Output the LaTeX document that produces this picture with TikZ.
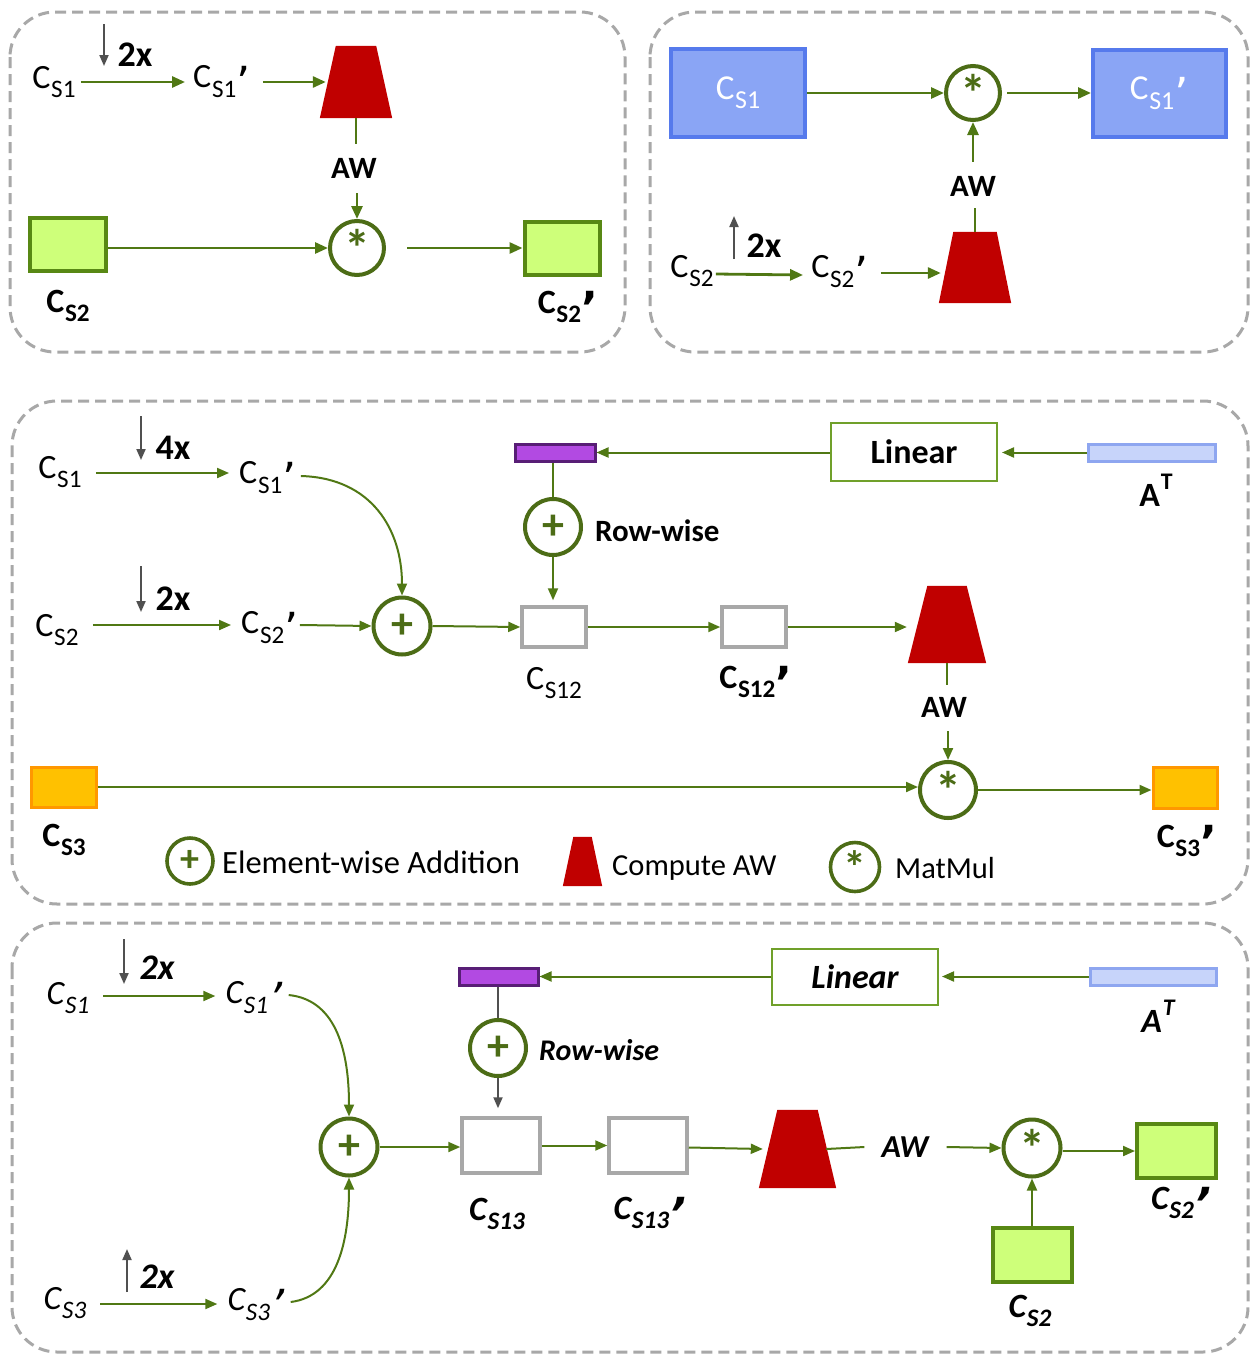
\documentclass[tikz,border=0pt]{standalone}
\usepackage{fontspec}
\setmainfont{Carlito}
\newfontfamily\djv{DejaVu Sans}
\usepackage{graphicx}
\usetikzlibrary{arrows.meta,calc}
\definecolor{grnc}{RGB}{80,120,20}
\definecolor{circc}{RGB}{76,108,22}
\definecolor{lgfill}{RGB}{206,255,122}
\definecolor{lgdraw}{RGB}{88,136,20}
\definecolor{bfill}{RGB}{138,165,245}
\definecolor{bdraw}{RGB}{86,122,236}
\definecolor{pfill}{RGB}{178,74,226}
\definecolor{pdraw}{RGB}{88,30,118}
\definecolor{atfill}{RGB}{199,212,250}
\definecolor{atdraw}{RGB}{142,166,240}
\definecolor{ofill}{RGB}{255,193,0}
\definecolor{odraw}{RGB}{255,152,0}
\definecolor{redc}{RGB}{192,0,0}
\definecolor{grayc}{RGB}{168,168,168}
\definecolor{dgray}{RGB}{80,80,80}
\definecolor{linc}{RGB}{112,160,42}
\newcommand{\fs}[1]{\fontsize{#1}{#1}\selectfont}
\newcommand{\Cs}[1]{C\kern0.02em\raisebox{-0.27em}{\scalebox{0.74}{#1}}}
\newcommand{\pr}{\kern0.01em\raisebox{-0.3em}{\scalebox{1.3}{\djv ’}}}
\newcommand{\AT}{A\kern0.02em\raisebox{0.5em}{\scalebox{0.7}{T}}}
\newcommand{\trapz}[6]{%
  \node[inner sep=0pt, minimum width=#4pt, minimum height=#5pt] (#1) at (#2,#3) {};
  \fill[redc] (#1.south west) -- (#1.south east) -- ([xshift=-#6pt]#1.north east) -- ([xshift=#6pt]#1.north west) -- cycle;}
\begin{document}
\begin{tikzpicture}[x=1pt,y=-1pt,
  panel/.style={draw=grayc, line width=3pt, dash pattern=on 11pt off 6pt, rounded corners=45pt},
  garrow/.style={draw=grnc, line width=2.8pt, -{Triangle[length=13pt,width=11pt]}},
  garrowt/.style={draw=grnc, line width=2pt, -{Triangle[length=12pt,width=10pt]}},
  gline/.style={draw=grnc, line width=2.6pt},
  glinet/.style={draw=grnc, line width=2pt},
  darr/.style={draw=dgray, line width=2pt, -{Triangle[length=11pt,width=9pt]}},
  dline/.style={draw=dgray, line width=2pt},
  lbl/.style={inner sep=0pt, font=\fs{34}},
  blbl/.style={inner sep=0pt, font=\fs{34}\bfseries},
  ilbl/.style={inner sep=0pt, font=\fs{34}\itshape},
  bilbl/.style={inner sep=0pt, font=\fs{34}\bfseries\itshape},
  fx/.style={inner sep=0pt, font=\fs{36}\bfseries},
  fxi/.style={inner sep=0pt, font=\fs{36}\bfseries\itshape},
  opc/.style={circle, draw=circc, line width=4pt, fill=white, minimum size=#1, inner sep=0pt, text=circc, font=\fs{44}\bfseries},
  ast/.style={font=\fs{52}\bfseries},
  lgbox/.style={draw=lgdraw, fill=lgfill, line width=4pt, inner sep=0pt},
  blbox/.style={draw=bdraw, fill=bfill, line width=4pt, inner sep=0pt, text=white, font=\fs{35}},
  gbox/.style={draw=grayc, fill=white, line width=3.5pt, inner sep=0pt},
  obox/.style={draw=odraw, fill=ofill, line width=3pt, inner sep=0pt},
  pbar/.style={draw=pdraw, fill=pfill, line width=3pt, inner sep=0pt},
  atbar/.style={draw=atdraw, fill=atfill, line width=3pt, inner sep=0pt},
  linbox/.style={draw=linc, fill=white, line width=2pt, inner sep=0pt}
]
\useasboundingbox (0,0) rectangle (1252,1355);

% ---------- frames ----------
\draw[panel] (10,12) rectangle (625,352);
\draw[panel] (650,12) rectangle (1248,352);
\draw[panel] (12,401) rectangle (1248,904);
\draw[panel] (12,923) rectangle (1248,1352);

% ---------- panel 1 ----------
\node[lbl] (n11) at (54,82) {\Cs{S1}};
\node[lbl] (n12) at (222,82) {\Cs{S1}\pr};
\coordinate (d11a) at (104,24); \coordinate (d11b) at (104,66);
\draw[darr] (d11a) -- (d11b);
\node[fx] (x11) at (135,55) {2x};
\draw[garrow] ([xshift=5pt]n11.east) -- ([xshift=-8pt]n12.west);
\trapz{T1}{356}{82}{72}{72}{16}
\draw[garrow] ([xshift=12pt]n12.east) -- ([xshift=6pt]T1.west);
\node[fx, font=\fs{31}\bfseries] (aw1) at (354,168) {AW};
\node[opc=54pt, ast] (M1) at (357,248) {*};
\draw[gline] (T1.south) -- ([yshift=14pt]aw1.north -| T1.south);
\draw[garrow] ([yshift=-15pt]aw1.south -| M1.north) -- (M1.north);
\node[lgbox, minimum width=76pt, minimum height=53pt] (S2a) at (68,244.5) {};
\node[lgbox, minimum width=75pt, minimum height=53pt] (S2b) at (562,248.5) {};
\draw[garrow] (S2a.east |- M1.west) -- (M1.west);
\draw[garrow] ([xshift=21pt]M1.east) -- (S2b.west |- M1.east);
\node[blbl] (l11) at (68,306) {\Cs{S2}};
\node[blbl] (l12) at (568,307) {\Cs{S2}\pr};

% ---------- panel 2 ----------
\node[blbox, minimum width=134pt, minimum height=88pt] (B1) at (738,93) {\Cs{S1}};
\node[blbox, minimum width=133pt, minimum height=87pt] (B2) at (1159.5,93.5) {\Cs{S1}\pr};
\node[opc=54pt, ast] (M2) at (973,93) {*};
\draw[garrow] (B1.east |- M2.west) -- (M2.west);
\draw[garrow] ([xshift=5pt]M2.east) -- (B2.west |- M2.east);
\node[fx, font=\fs{31}\bfseries] (aw2) at (973,186) {AW};
\draw[garrow] ([yshift=14pt]aw2.north -| M2.south) -- (M2.south);
\trapz{T2}{975}{267.5}{72}{71}{14.5}
\draw[gline] (T2.north) -- ([yshift=-12pt]aw2.south -| T2.north);
\node[lbl] (n21) at (692,271) {\Cs{S2}};
\node[lbl] (n22) at (840,272) {\Cs{S2}\pr};
\coordinate (u21a) at (734,259); \coordinate (u21b) at (734,216);
\draw[darr] (u21a) -- (u21b);
\node[fx] (x21) at (764,246) {2x};
\draw[garrow] ([xshift=2pt,yshift=-3pt]n21.east) -- ([xshift=-8pt,yshift=-3pt]n22.west);
\draw[garrow] ([xshift=12pt,yshift=-1pt]n22.east) -- ([xshift=2pt,yshift=-5.5pt]T2.west);

% ---------- panel 3 ----------
\node[lbl] (n31) at (60,472) {\Cs{S1}};
\node[lbl] (n32) at (268,478) {\Cs{S1}\pr};
\coordinate (d31a) at (141,416); \coordinate (d31b) at (141,460);
\draw[darr] (d31a) -- (d31b);
\node[fx] (x31) at (173,448) {4x};
\draw[garrowt] ([xshift=14pt,yshift=-1pt]n31.east) -- ([xshift=-10pt,yshift=5pt]n32.west);
\node[lbl] (n33) at (57,630) {\Cs{S2}};
\node[lbl] (n34) at (270,628) {\Cs{S2}\pr};
\coordinate (d33a) at (141,566); \coordinate (d33b) at (141,612);
\draw[darr] (d33a) -- (d33b);
\node[fx] (x33) at (173,599) {2x};
\draw[garrowt] ([xshift=14pt,yshift=5pt]n33.east) -- ([xshift=-10pt,yshift=3pt]n34.west);
\node[opc=57pt] (P3) at (402,626) {+};
\draw[garrowt] ([xshift=1pt,yshift=3pt]n34.east) -- (P3.west);
\draw[garrowt] ([xshift=4pt,yshift=2pt]n32.east) .. controls (372,478) and (402,530) .. (P3.north);
\node[gbox, minimum width=64pt, minimum height=40pt] (Q1) at (554,627) {};
\node[gbox, minimum width=64pt, minimum height=40pt] (Q2) at (754,627) {};
\draw[garrowt] (P3.east) -- (Q1.west);
\draw[garrowt] (Q1.east) -- (Q2.west);
\node[lbl] (l31) at (554,683) {\Cs{S12}};
\node[blbl] (l32) at (756,682) {\Cs{S12}\pr};
\trapz{T3}{947}{624.5}{78}{77}{19.5}
\draw[garrowt] (Q2.east) -- ([xshift=-1pt,yshift=-2.5pt]T3.west);
\node[fx, font=\fs{31}\bfseries] (aw3) at (944,707) {AW};
\node[opc=56pt, ast] (M3) at (948,790) {*};
\draw[glinet] (T3.south) -- ([yshift=12pt]aw3.north -| T3.south);
\draw[garrowt] ([yshift=-14pt]aw3.south -| M3.north) -- (M3.north);
\node[obox, minimum width=65pt, minimum height=40pt] (O1) at (63.5,787) {};
\node[obox, minimum width=64pt, minimum height=41pt] (O2) at (1185,787.5) {};
\draw[garrowt] (O1.east) -- (O1.east -| M3.west);
\draw[garrowt] (M3.east) -- (O2.west |- M3.east);
\node[blbl] (l33) at (64,840) {\Cs{S3}};
\node[blbl] (l34) at (1187,841) {\Cs{S3}\pr};
\node[pbar, minimum width=80pt, minimum height=17pt] (PB1) at (555,452.5) {};
\node[linbox, minimum width=166pt, minimum height=58pt, font=\fs{34}\bfseries] (L1) at (914,452) {Linear};
\node[atbar, minimum width=127pt, minimum height=17pt] (AT1) at (1151.5,452.5) {};
\node[blbl] (l35) at (1156,490) {\AT};
\draw[garrowt] (L1.west |- PB1.east) -- (PB1.east);
\draw[garrowt] (AT1.west) -- ([xshift=4pt]AT1.west -| L1.east);
\node[opc=56pt] (R1) at (553,527) {+};
\draw[glinet] (PB1.south -| R1.north) -- (R1.north);
\draw[garrowt] (R1.south) -- ([yshift=5pt]Q1.north -| R1.south);
\node[blbl, font=\fs{31}\bfseries, anchor=west] (rw1) at (595,531) {Row-wise};

% legend
\node[opc=46pt, line width=3.6pt, font=\fs{38}\bfseries] (LP) at (190,861) {+};
\node[lbl, font=\fs{32.5}, anchor=west] (LPt) at (222,862) {Element-wise Addition};
\trapz{LT}{582.5}{861.5}{39}{49}{10.5}
\node[lbl, font=\fs{30.5}, anchor=west] (LTt) at (612,868) {Compute AW};
\node[opc=49pt, line width=3.6pt, font=\fs{46}\bfseries] (LM) at (855,867) {*};
\node[lbl, font=\fs{30.5}, anchor=west] (LMt) at (895,868) {MatMul};

% ---------- panel 4 ----------
\node[ilbl] (n41) at (68,998) {\Cs{S1}};
\node[ilbl] (n42) at (254,998) {\Cs{S1}\pr};
\coordinate (d41a) at (124,939); \coordinate (d41b) at (124,984);
\draw[darr] (d41a) -- (d41b);
\node[fxi] (x41) at (157,968) {2x};
\draw[garrowt] ([xshift=14pt,yshift=2pt]n41.east) -- ([xshift=-10pt,yshift=2pt]n42.west);
\node[ilbl] (n43) at (65,1303) {\Cs{S3}};
\node[ilbl] (n44) at (256,1305) {\Cs{S3}\pr};
\coordinate (u43a) at (127,1292); \coordinate (u43b) at (127,1249);
\draw[darr] (u43a) -- (u43b);
\node[fxi] (x43) at (157,1277) {2x};
\draw[garrowt] ([xshift=14pt,yshift=-1pt]n43.east) -- ([xshift=-10pt,yshift=1pt]n44.west);
\node[opc=57pt] (P4) at (349,1147) {+};
\draw[garrowt] ([xshift=6pt,yshift=3pt]n42.east) .. controls (338,1000) and (349,1055) .. (P4.north);
\draw[garrowt] ([xshift=6pt,yshift=3pt]n44.east) .. controls (338,1296) and (349,1240) .. (P4.south);
\node[gbox, minimum width=78pt, minimum height=55pt] (G1) at (501,1145.5) {};
\node[gbox, minimum width=78pt, minimum height=55pt] (G2) at (648,1145.5) {};
\draw[garrowt] (P4.east) -- (G1.west |- P4.east);
\draw[garrowt] (G1.east) -- (G2.west);
\node[bilbl] (l41) at (497,1214) {\Cs{S13}};
\node[bilbl] (l42) at (650,1213) {\Cs{S13}\pr};
\trapz{T4}{797.5}{1149}{77}{78}{18.5}
\draw[garrowt] ([yshift=-2pt]G2.east) -- ([xshift=4pt]T4.west);
\node[bilbl, font=\fs{32}\bfseries\itshape] (aw4) at (905,1147) {AW};
\node[opc=57pt, ast] (M4) at (1032,1148) {*};
\draw[glinet] ([xshift=-10pt]T4.east) -- ([xshift=-17pt]aw4.west);
\draw[garrowt] ([xshift=18pt]aw4.east) -- (M4.west);
\node[lgbox, minimum width=79pt, minimum height=54pt] (H2) at (1176.5,1151) {};
\node[lgbox, minimum width=79pt, minimum height=54pt] (H1) at (1032.5,1255) {};
\draw[garrowt] ([yshift=-3pt]M4.east) -- ([yshift=-3pt]M4.east -| H2.west);
\draw[garrowt] (H1.north -| M4.south) -- (M4.south);
\node[bilbl] (l43) at (1181,1203) {\Cs{S2}\pr};
\node[bilbl] (l44) at (1030,1311) {\Cs{S2}};
\node[pbar, minimum width=79pt, minimum height=17pt] (PB2) at (498.5,976.5) {};
\node[linbox, minimum width=166pt, minimum height=56pt, font=\fs{34}\bfseries\itshape] (L2) at (855,977) {Linear};
\node[atbar, minimum width=126pt, minimum height=17pt] (AT2) at (1153,976.5) {};
\node[bilbl] (l45) at (1158,1016) {\AT};
\draw[garrowt] (L2.west |- PB2.east) -- (PB2.east);
\draw[garrowt] (AT2.west) -- ([xshift=3pt]AT2.west -| L2.east);
\node[opc=56pt] (R2) at (498,1048) {+};
\draw[dline] (PB2.south -| R2.north) -- (R2.north);
\draw[darr] (R2.south) -- ([yshift=8pt]G1.north -| R2.south);
\node[bilbl, font=\fs{30}\bfseries\itshape, anchor=west] (rw2) at (539,1050) {Row-wise};
\end{tikzpicture}
\end{document}
